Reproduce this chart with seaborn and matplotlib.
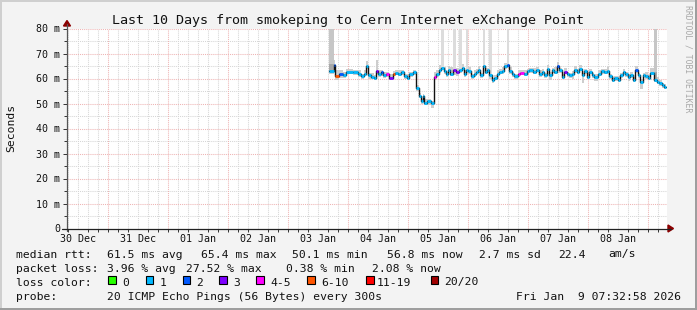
import numpy as np
import pandas as pd
import matplotlib
matplotlib.use("Agg")
import matplotlib.pyplot as plt
import matplotlib.dates as mdates
from matplotlib.patches import Rectangle, Polygon
from matplotlib.lines import Line2D
import seaborn as sns

# ---------------- data ----------------
graph_end = "2026-01-09 07:32:58"
data_origin = "2026-01-03 00:00:00"

# start of each median step, hours after data_origin
t_hours = [16.5, 18.3, 18.8, 20.5, 21.9, 23.2, 25.9, 27.9, 29.2, 30.5,
           31.2, 32.1, 33.2, 34.5, 35.2, 36.1, 37.2, 37.9, 39.2, 40.5,
           41.9, 42.8, 43.9, 45.2, 46.5, 47.6, 48.5, 49.9, 51.2, 52.5,
           53.2, 53.9, 54.5, 55.6, 57.2, 58.3, 59.2, 60.5, 61.2, 62.3,
           63.2, 64.1, 64.9, 65.9, 67.2, 68.5, 69.5, 70.3, 71.2, 72.1,
           73.2, 74.3, 75.2, 76.1, 76.9, 77.9, 78.8, 79.6, 80.5, 81.5,
           82.5, 83.6, 84.5, 85.5, 86.5, 87.6, 88.5, 89.5, 90.5, 91.9,
           92.9, 94.3, 95.6, 96.5, 97.9, 99.2, 100.5, 101.5, 102.5, 103.6,
           104.5, 105.5, 106.5, 107.6, 108.5, 109.5, 110.5, 111.6, 112.5, 113.5,
           114.5, 115.6, 116.5, 117.5, 118.5, 119.6, 120.5, 121.5, 122.5, 123.9,
           125.2, 126.5, 127.6, 128.5, 129.5, 130.5, 131.9, 132.9, 133.9, 134.8,
           135.9, 136.9, 137.9, 138.8, 139.9, 140.9, 141.9, 142.8, 143.9, 144.9,
           146.5, 147.6, 148.5, 149.5, 150.5]
t_end_hours = 151.2

median_ms = [63.0, 65.3, 61.1, 61.8, 61.3, 62.7, 62.5, 61.8, 61.0, 62.0,
             64.9, 61.3, 60.7, 60.4, 63.0, 61.8, 62.5, 61.3, 61.8, 60.4,
             62.0, 62.3, 62.0, 62.5, 61.0, 60.4, 61.8, 62.5, 56.1, 53.1,
             51.0, 53.0, 50.3, 51.0, 50.1, 60.5, 61.8, 63.4, 64.3, 63.0,
             61.8, 63.6, 62.0, 63.4, 62.7, 63.4, 64.3, 61.8, 63.4, 63.0,
             61.0, 61.8, 62.7, 63.4, 61.3, 65.1, 62.7, 63.4, 61.3, 59.4,
             60.4, 61.8, 62.7, 63.0, 64.9, 65.4, 63.0, 61.8, 61.0, 61.8,
             62.3, 62.0, 63.0, 63.4, 62.7, 63.6, 61.8, 62.7, 61.3, 64.0,
             61.3, 63.4, 62.7, 65.1, 63.4, 60.7, 62.7, 61.8, 61.3, 62.0,
             63.4, 62.7, 64.0, 61.3, 63.0, 60.7, 62.7, 61.3, 60.7, 62.0,
             63.0, 62.7, 63.0, 61.0, 59.6, 60.1, 59.6, 61.3, 62.7, 61.8,
             60.7, 61.3, 59.6, 63.4, 61.3, 58.7, 61.3, 61.0, 60.4, 62.3,
             59.6, 58.7, 58.1, 57.4, 56.8]

# smoke spread (ms above / below the median) per step
smoke_up_ms = [2.5, 2.0, 2.5, 1.5, 1.5, 1.0, 1.0, 1.5, 1.0, 1.5,
               2.0, 1.0, 1.5, 1.0, 4.5, 1.5, 1.0, 1.5, 1.0, 1.5,
               1.0, 1.0, 1.5, 1.0, 1.0, 1.5, 1.0, 1.0, 1.5, 1.0,
               1.0, 1.0, 1.5, 1.0, 1.0, 2.0, 1.5, 2.0, 1.5, 1.5,
               1.0, 1.5, 2.5, 2.0, 1.5, 2.0, 1.5, 1.5, 1.0, 1.5,
               1.0, 1.5, 1.0, 1.5, 1.0, 2.0, 1.5, 1.0, 1.5, 1.0,
               1.0, 1.5, 1.0, 1.5, 1.5, 2.0, 1.5, 1.0, 1.0, 1.5,
               1.0, 1.5, 1.0, 1.0, 1.5, 1.0, 1.5, 1.0, 1.0, 1.5,
               1.5, 1.0, 2.0, 1.5, 1.0, 1.0, 1.5, 1.0, 1.0, 1.0,
               1.5, 1.0, 1.5, 1.0, 1.0, 1.5, 1.0, 1.0, 1.0, 1.5,
               1.0, 1.0, 1.5, 1.0, 1.0, 1.0, 1.5, 1.0, 1.0, 1.0,
               1.0, 1.5, 1.0, 1.5, 1.0, 1.0, 1.0, 1.5, 1.0, 2.0,
               3.0, 2.0, 1.5, 1.0, 1.0]
smoke_dn_ms = [1.0, 1.0, 1.5, 1.5, 1.0, 1.0, 1.0, 1.0, 1.0, 1.0,
               1.0, 1.5, 1.0, 1.0, 1.0, 1.0, 1.5, 1.0, 1.0, 1.0,
               1.0, 1.0, 1.0, 1.0, 1.0, 1.0, 1.0, 1.0, 1.0, 1.0,
               1.0, 1.0, 1.0, 1.5, 2.0, 1.0, 1.0, 1.0, 1.0, 1.0,
               1.0, 1.0, 1.0, 2.0, 1.5, 1.0, 1.0, 1.0, 1.0, 1.0,
               1.0, 1.0, 1.0, 1.0, 1.0, 1.0, 1.0, 1.0, 1.5, 1.0,
               1.0, 1.0, 1.0, 1.0, 1.0, 1.0, 1.0, 1.0, 1.0, 1.0,
               1.0, 1.0, 1.0, 1.0, 1.0, 1.0, 1.0, 1.0, 1.0, 1.0,
               2.0, 1.0, 1.0, 1.0, 1.0, 1.0, 1.0, 1.0, 1.0, 2.0,
               1.0, 1.0, 1.0, 3.0, 1.0, 1.0, 1.0, 1.0, 1.5, 1.0,
               1.0, 1.0, 1.0, 1.0, 1.0, 1.0, 1.0, 1.0, 1.0, 1.0,
               1.5, 1.0, 1.0, 1.0, 1.0, 3.0, 1.0, 1.0, 1.0, 1.0,
               1.0, 1.0, 1.0, 1.0, 1.0]

# steps where the slowest pings went off the scale (max ping, ms) and their shade
spike_steps = [0, 38, 43, 45, 48, 55, 58, 65, 120]
spike_max_ms = [100, 100, 100, 100, 100, 100, 100, 100, 100]
spike_dark = [True, False, False, False, False, False, False, False, True]

# loss category per step: default '1', exceptions listed by step index
loss_default = "1"
loss_exceptions = {1: "2", 2: "6-10", 3: "2", 14: "3", 16: "2", 18: "4-5",
                   19: "3", 20: "6-10", 35: "4-5", 43: "3", 44: "3", 65: "2",
                   69: "4-5", 70: "4-5", 83: "2", 86: "3", 113: "2"}

loss_labels = ["0", "1", "2", "3", "4-5", "6-10", "11-19", "20/20"]
loss_colors = ["#26ff00", "#00b8ff", "#0059ff", "#7e00ff", "#ff00ff",
               "#ff5500", "#ff0000", "#a00000"]

y_ticks = [0, 10, 20, 30, 40, 50, 60, 70, 80]
y_tick_labels = ["0", "10 m", "20 m", "30 m", "40 m", "50 m", "60 m", "70 m", "80 m"]
x_tick_labels = ["30 Dec", "31 Dec", "01 Jan", "02 Jan", "03 Jan",
                 "04 Jan", "05 Jan", "06 Jan", "07 Jan", "08 Jan"]

rtt_stats = ["61.5 ms avg", "65.4 ms max", "50.1 ms min", "56.8 ms now",
             "2.7 ms sd", "22.4", "am/s"]
loss_stats = ["3.96 % avg", "27.52 % max", "0.38 % min", "2.08 % now"]
title = "Last 10 Days from smokeping to Cern Internet eXchange Point"
probe_text = "20 ICMP Echo Pings (56 Bytes) every 300s"
stamp_text = "Fri Jan  9 07:32:58 2026"

# ---------------- figure ----------------
sns.set_theme(style="white")
plt.rcParams["font.family"] = ["DejaVu Sans Mono", "DejaVu Sans"]

W, H = 697, 310
fig = plt.figure(figsize=(W / 100, H / 100), dpi=100)
fig.patch.set_facecolor("#f3f3f3")

def fx(x):
    return x / W

def fy(y):
    return 1 - y / H

X0, X1, Y0, Y1 = 67, 667, 228.5, 28.5
ax = fig.add_axes([fx(X0), fy(Y0), (X1 - X0) / W, (Y0 - Y1) / H])
ax.set_facecolor("white")
for s in ax.spines.values():
    s.set_visible(False)

end_ts = pd.Timestamp(graph_end)
start_ts = end_ts - pd.Timedelta(days=10)
origin = pd.Timestamp(data_origin)
starts = origin + pd.to_timedelta(t_hours, unit="h")
end_data = origin + pd.Timedelta(hours=t_end_hours)
times_ext = list(starts) + [end_data]
tn = mdates.date2num(pd.DatetimeIndex(times_ext))

ax.set_xlim(mdates.date2num(start_ts), mdates.date2num(end_ts))
ax.set_ylim(0, 80)

# grid
minor_col = "#d6d6d6"
major_col = "#eeb4b4"
dot = (0, (1, 1))
mids = pd.date_range(start_ts.ceil("D"), end_ts, freq="D")
fours = pd.date_range(start_ts.ceil("4h"), end_ts, freq="4h")
for t in fours:
    if t.hour != 0:
        ax.axvline(mdates.date2num(t), color=minor_col, lw=0.75, ls=dot, zorder=0.5)
for v in range(5, 80, 10):
    ax.axhline(v, color=minor_col, lw=0.75, ls=dot, zorder=0.5)
for t in mids:
    ax.axvline(mdates.date2num(t), color=major_col, lw=0.75, ls=dot, zorder=0.6)
for v in range(10, 81, 10):
    ax.axhline(v, color=major_col, lw=0.75, ls=dot, zorder=0.6)

# smoke
med = np.array(median_ms)
hi = med + np.array(smoke_up_ms)
lo = med - np.array(smoke_dn_ms)
ax.fill_between(tn, np.append(lo, lo[-1]), np.append(hi, hi[-1]), step="post",
                color="#cdcdcd", lw=0, zorder=1)
for i, top, dark in zip(spike_steps, spike_max_ms, spike_dark):
    ax.fill_between([tn[i], tn[i + 1]], [med[i], med[i]], [top, top],
                    color="#c6c6c6" if dark else "#dcdcdc", lw=0, zorder=1.2)
    if dark:
        ax.fill_between([tn[i], tn[i + 1]], [med[i], med[i]], [med[i] + 3, med[i] + 3],
                        color="#a8a8a8", lw=0, zorder=1.3)

# median line (black steps) via seaborn
df = pd.DataFrame({"time": times_ext, "median": list(median_ms) + [median_ms[-1]]})
df["tnum"] = tn
sns.lineplot(data=df, x="tnum", y="median", drawstyle="steps-post", color="#111111",
             lw=1.0, estimator=None, sort=False, ax=ax, zorder=3)

# loss-coloured segments
cmap = dict(zip(loss_labels, loss_colors))
for i in range(len(median_ms)):
    code = loss_exceptions.get(i, loss_default)
    ax.hlines(med[i], tn[i], tn[i + 1], color=cmap[code], lw=2.0, zorder=4)

ax.set_xlabel("")
ax.set_ylabel("")

# ticks
noons = [mdates.date2num(start_ts.normalize() + pd.Timedelta(days=k, hours=12)) for k in range(10)]
ax.set_xticks(noons)
ax.set_xticklabels(x_tick_labels)
ax.set_xticks([mdates.date2num(t) for t in fours], minor=True)
ax.tick_params(axis="x", which="major", length=0, pad=4.2, labelsize=7.2, colors="#111111")
ax.tick_params(axis="x", which="minor", length=2, width=0.7, direction="out", color="#333333", bottom=True)
ax.set_yticks(y_ticks)
ax.set_yticklabels(y_tick_labels)
ax.set_yticks(list(range(5, 80, 10)), minor=True)
ax.tick_params(axis="y", which="major", length=3, width=0.7, direction="out", pad=2,
               labelsize=7.2, color="#333333", left=True, labelcolor="#111111")
ax.tick_params(axis="y", which="minor", length=2, width=0.7, direction="out", color="#333333", left=True)

# axis lines and arrows
fig.add_artist(Line2D([fx(X0), fx(X0)], [fy(Y0 + 2), fy(24)], color="#555555", lw=0.9))
fig.add_artist(Line2D([fx(X0 - 5), fx(671)], [fy(Y0), fy(Y0)], color="#222222", lw=0.9))
fig.add_artist(Polygon([[fx(X0 - 3.5), fy(26)], [fx(X0 + 3.5), fy(26)], [fx(X0), fy(20.5)]],
                       closed=True, color="#8b0000", transform=fig.transFigure))
fig.add_artist(Polygon([[fx(668), fy(Y0 - 3.5)], [fx(668), fy(Y0 + 3.5)], [fx(673.5), fy(Y0)]],
                       closed=True, color="#8b0000", transform=fig.transFigure))

# title and labels
fig.text(fx(348.5), fy(24), title, ha="center", va="baseline", fontsize=9.6, color="#111111")
fig.text(fx(11), fy(128), "Seconds", rotation=90, ha="center", va="center", fontsize=8.2, color="#111111")
fig.text(fx(688), fy(58.5), "RRDTOOL / TOBI OETIKER", rotation=270, ha="center", va="center",
         fontsize=5.9, color="#a8a8a8")

# legend block
LF = 8.2
tc = "#111111"
fig.text(fx(16), fy(257.5), "median rtt:", fontsize=LF, va="baseline", color=tc)
for xx, s in zip([107, 200.7, 291.7, 386.7, 479.3, 558.3, 608.3], rtt_stats):
    fig.text(fx(xx), fy(257.5), s, fontsize=LF, va="baseline", color=tc)
fig.text(fx(16), fy(271.5), "packet loss:", fontsize=LF, va="baseline", color=tc)
for xx, s in zip([107, 186, 286, 372.3], loss_stats):
    fig.text(fx(xx), fy(271.5), s, fontsize=LF, va="baseline", color=tc)
fig.text(fx(16), fy(285.5), "loss color:", fontsize=LF, va="baseline", color=tc)
box_x = [108, 145.7, 182.7, 219.3, 256, 307, 366, 430.7]
lab_x = [122, 159.5, 196.2, 233.5, 270.5, 321, 377, 444.5]
for bx, lx, lab, col in zip(box_x, lab_x, loss_labels, loss_colors):
    fig.add_artist(Rectangle((fx(bx), fy(283.5)), 7.5 / W, 7.5 / H, transform=fig.transFigure,
                             facecolor=col, edgecolor="black", lw=0.8))
    fig.text(fx(lx), fy(285.5), lab, fontsize=LF, va="baseline", color=tc)
fig.text(fx(16), fy(299.5), "probe:", fontsize=LF, va="baseline", color=tc)
fig.text(fx(107), fy(299.5), probe_text, fontsize=LF, va="baseline", color=tc)
fig.text(fx(681), fy(299.5), stamp_text, fontsize=LF, va="baseline", ha="right", color=tc)

# 3D frame
fig.add_artist(Rectangle((0, 0), 2 / W, 1, transform=fig.transFigure, color="#cfcfcf", lw=0))
fig.add_artist(Rectangle((0, 1 - 2 / H), 1, 2 / H, transform=fig.transFigure, color="#cfcfcf", lw=0))
fig.add_artist(Rectangle((1 - 2 / W, 0), 2 / W, 1, transform=fig.transFigure, color="#9e9e9e", lw=0))
fig.add_artist(Rectangle((0, 0), 1, 2 / H, transform=fig.transFigure, color="#9e9e9e", lw=0))

fig.savefig("out.png", dpi=100, facecolor=fig.get_facecolor())
